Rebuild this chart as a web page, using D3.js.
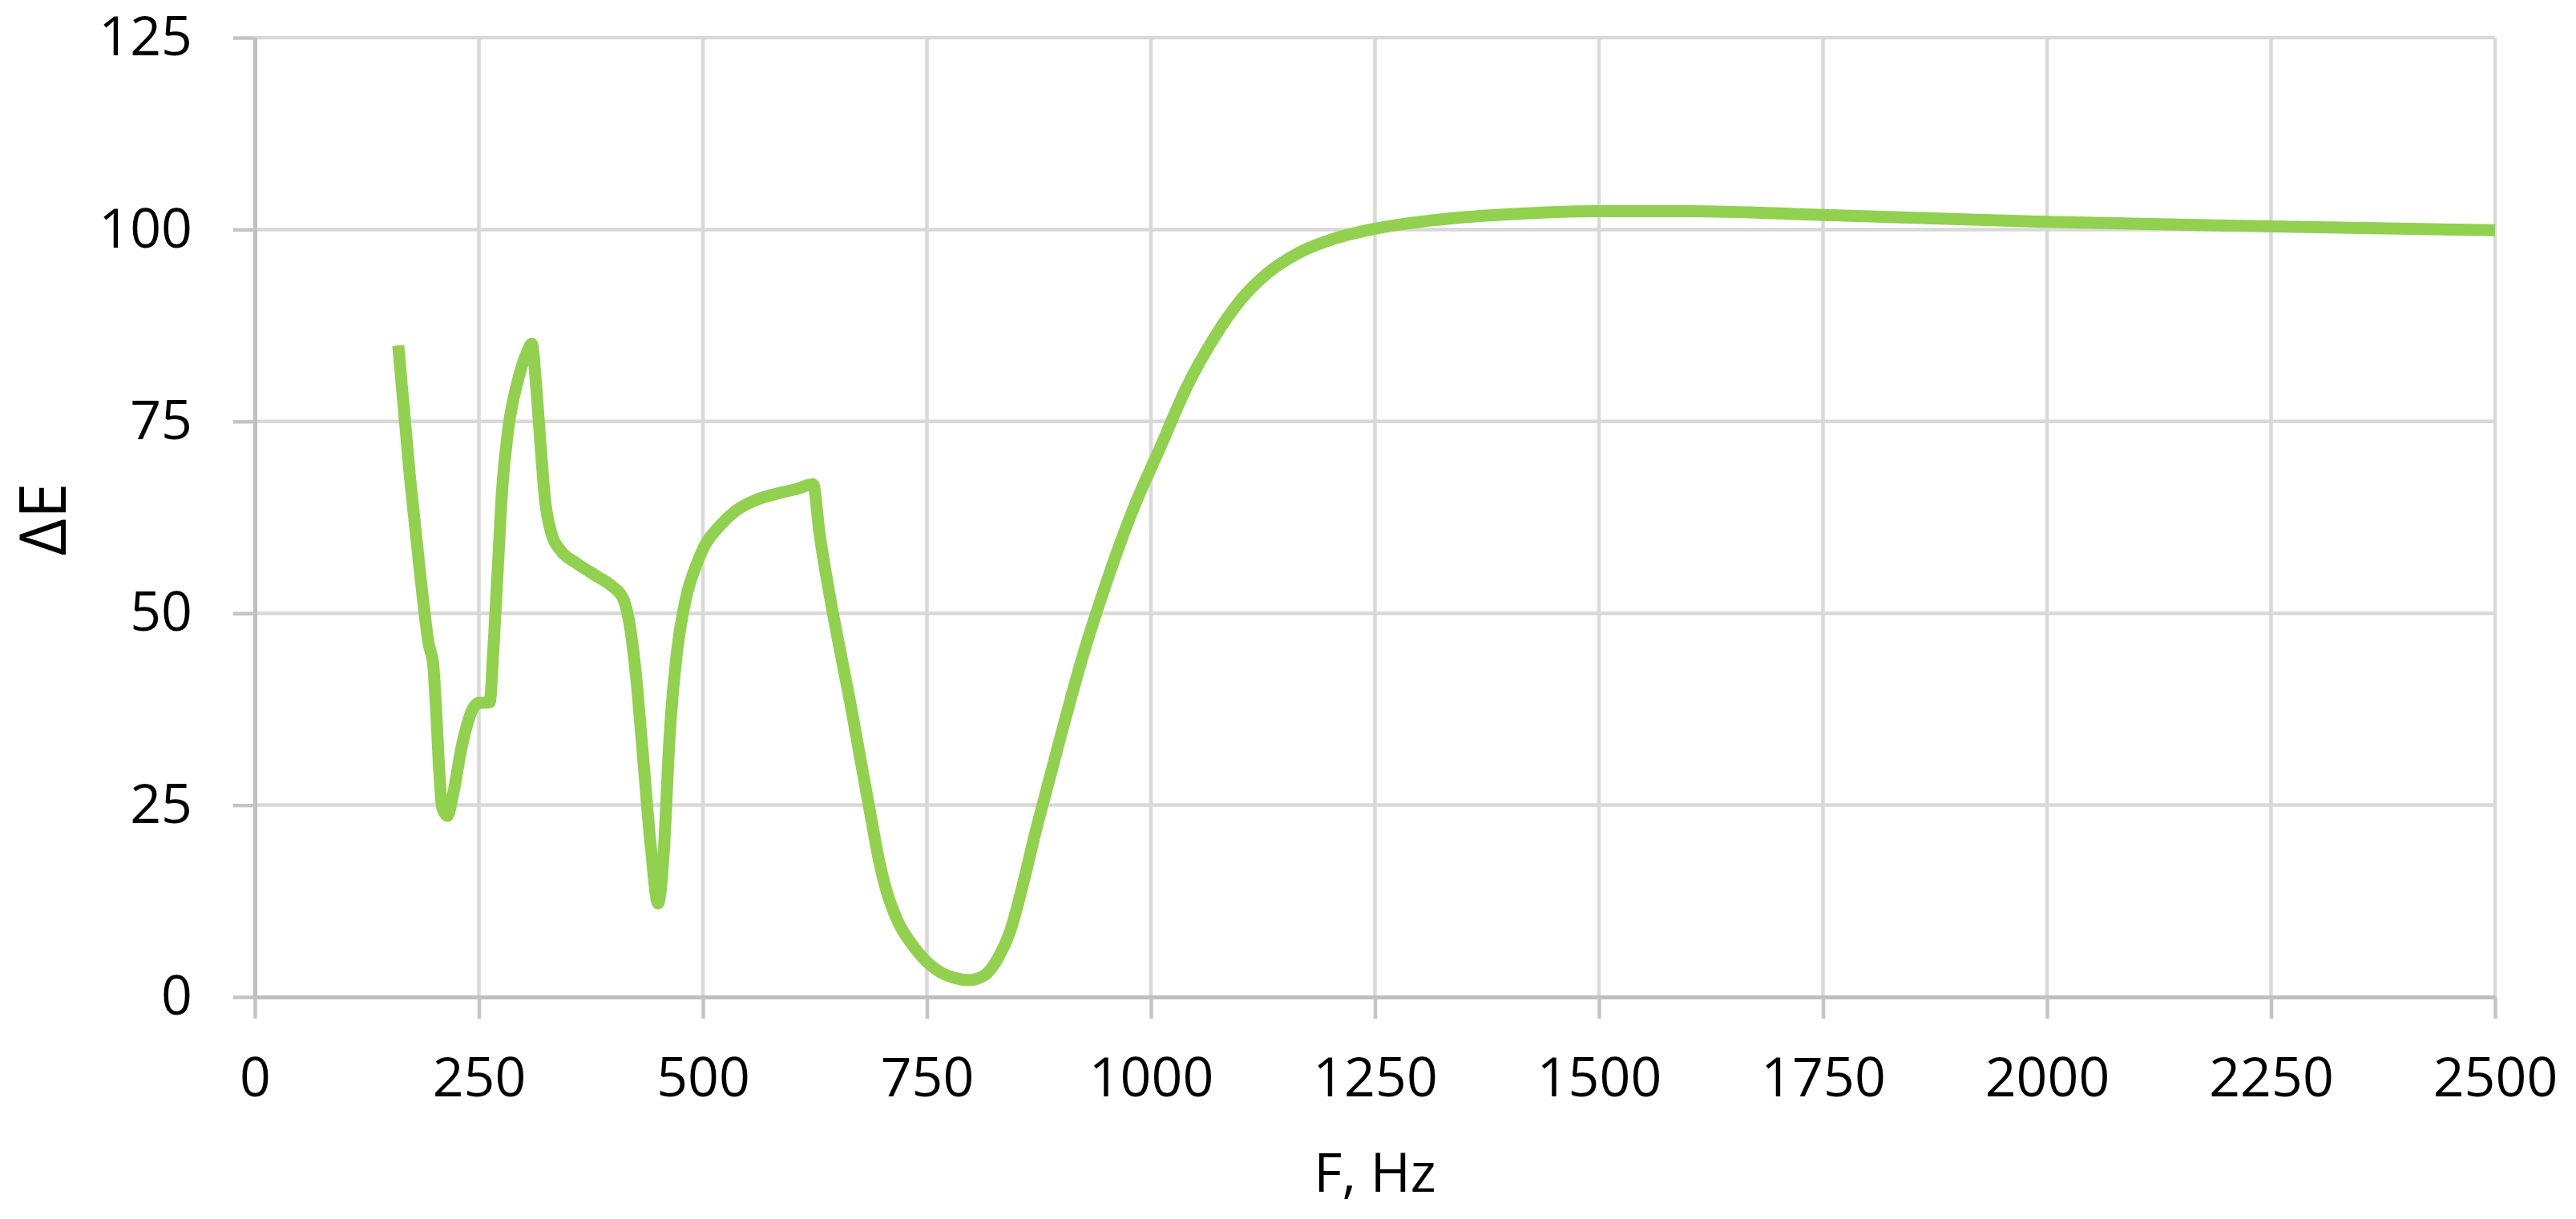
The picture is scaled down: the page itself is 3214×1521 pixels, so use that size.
<!DOCTYPE html>
<html lang="en">

<head>
    <meta charset="UTF-8">
    <title>ΔE vs F</title>
    <script src="https://d3js.org/d3.v7.min.js"></script>
    <style>
        body { margin: 0; background: #fff; }
        svg { overflow: visible; }
        text { font-family: "Open Sans", sans-serif; fill: #000; }
    </style>
</head>

<body>

    <svg class="svgs" height="1521" width="3214"></svg>

    <script>
        // data
        const freq = [160, 173, 184, 194, 199, 202, 206, 209, 215, 221, 231, 243, 249, 262,
            266, 271, 276, 283, 293, 303, 309, 314, 319, 324, 331, 341, 358, 382, 399, 411, 418,
            425, 433, 442, 450, 456, 463, 471, 481, 492, 502, 519, 536, 560, 587, 605, 623,
            630, 642, 655, 665, 675, 689, 697, 705, 717, 737, 760, 780, 797, 814, 830, 843, 857, 871, 884,
            898, 912, 928, 944, 961, 981, 1010, 1040, 1070, 1100, 1130, 1164, 1207, 1250,
            1314, 1400, 1500, 1600, 1750, 2000, 2250, 2500]
        const deltaE = [84.9, 67.8, 55.6, 46, 43.3, 38, 29, 24.7, 23.6, 26.3, 32.7, 37.5, 38.3, 38.4,
            44.9, 55.6, 66.2, 74.2, 80.1, 83.8, 85.1, 79.5, 71.6, 64.6, 60.4, 58.2, 56.6, 54.8, 53.5, 51.9, 48.7,
            42.3, 31.6, 19.4, 12.2, 18.3, 34.3, 44.9, 51.9, 56.1, 58.8, 61.4, 63.3, 64.8, 65.7, 66.2, 66.8,
            60.5, 52, 44, 38, 31.5, 22.5, 17.5, 13.8, 10, 6.3, 3.6, 2.5, 2.2, 2.8, 5.2, 8.6, 14.6, 21.4, 27.2,
            33.4, 39.5, 46, 51.8, 57.6, 63.8, 71.5, 79.5, 85.8, 90.8, 94.3, 96.9, 98.9, 100.1,
            101.2, 102, 102.4, 102.4, 101.9, 101, 100.4, 99.9]
        const xTicks = [0, 250, 500, 750, 1000, 1250, 1500, 1750, 2000, 2250, 2500]
        const yTicks = [0, 25, 50, 75, 100, 125]

        const svg = d3.select('.svgs')
        const width = +svg.attr('width')
        const height = +svg.attr('height')
        const margin = { top: 47, right: 101, bottom: 277, left: 318 }
        const innerWidth = width - margin.left - margin.right
        const innerHeight = height - margin.top - margin.bottom

        const points = freq.map((f, i) => ({ f: f, v: deltaE[i] }))

        const xScale = d3.scaleLinear().domain([0, 2500]).range([0, innerWidth])
        const yScale = d3.scaleLinear().domain([0, 125]).range([innerHeight, 0])

        const g = svg.append('g')
            .attr('transform', `translate(${margin.left},${margin.top})`)

        // gridlines
        g.append('g').selectAll('line')
            .data(xTicks.filter(d => d > 0))
            .enter().append('line')
            .attr('x1', d => xScale(d)).attr('x2', d => xScale(d))
            .attr('y1', 0).attr('y2', innerHeight)
            .attr('stroke', '#d9d9d9').attr('stroke-width', 4.5)

        g.append('g').selectAll('line')
            .data(yTicks.filter(d => d > 0))
            .enter().append('line')
            .attr('x1', 0).attr('x2', innerWidth)
            .attr('y1', d => yScale(d)).attr('y2', d => yScale(d))
            .attr('stroke', '#d9d9d9').attr('stroke-width', 4.5)

        // axes
        const xAxisGroup = g.append('g')
            .attr('transform', `translate(0, ${innerHeight})`)
            .call(d3.axisBottom(xScale).tickValues(xTicks).tickFormat(d => d)
                .tickSizeInner(27).tickSizeOuter(0))
        const yAxisGroup = g.append('g')
            .call(d3.axisLeft(yScale).tickValues(yTicks).tickFormat(d => d)
                .tickSizeInner(27).tickSizeOuter(0))

        for (const ax of [xAxisGroup, yAxisGroup]) {
            ax.select('.domain').attr('stroke', '#bfbfbf').attr('stroke-width', 5)
            ax.selectAll('.tick line').attr('stroke', '#c4c4c4').attr('stroke-width', 4.5)
            ax.selectAll('.tick text')
                .attr('font-family', '"Open Sans", sans-serif')
                .attr('font-size', 68)
                .attr('fill', '#000')
        }
        xAxisGroup.selectAll('.tick text').attr('y', 124).attr('dy', null)
        yAxisGroup.selectAll('.tick text').attr('x', -78).attr('dy', '0.32em')

        // the curve
        const line = d3.line()
            .x(d => xScale(d.f))
            .y(d => yScale(d.v))
            .curve(d3.curveMonotoneX)

        g.append('path')
            .datum(points)
            .attr('d', line)
            .attr('fill', 'none')
            .attr('stroke', '#92d050')
            .attr('stroke-width', 15)
            .attr('stroke-linejoin', 'round')

        // axis titles
        svg.append('text')
            .attr('x', margin.left + innerWidth / 2)
            .attr('y', 1487)
            .attr('text-anchor', 'middle')
            .attr('font-size', 68)
            .text('F, Hz')

        svg.append('text')
            .attr('transform', 'translate(53, 648) rotate(-90)')
            .attr('text-anchor', 'middle')
            .attr('dy', '0.36em')
            .attr('font-size', 80)
            .text('ΔE')
    </script>
</body>

</html>
